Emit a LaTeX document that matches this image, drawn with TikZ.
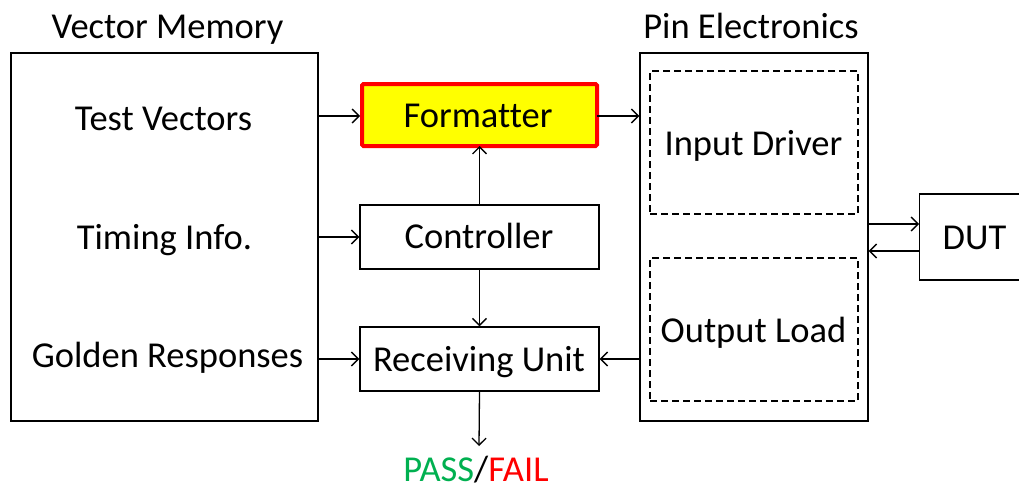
\documentclass[tikz,border=0pt]{standalone}
\usepackage{fontspec}
\setmainfont{Carlito}[Ligatures=NoCommon]
\usetikzlibrary{arrows.meta}
\definecolor{passgreen}{RGB}{0,176,80}
\definecolor{failred}{RGB}{255,0,0}
\definecolor{fmtyellow}{RGB}{255,255,0}
\begin{document}
\begin{tikzpicture}[x=1pt,y=-1pt,
  txt/.style={font=\fontsize{36.5}{42}\selectfont, inner sep=0pt, anchor=base},
  blk/.style={draw, line width=1.4pt, inner sep=0pt},
  dash box/.style={draw, line width=1.2pt, dash pattern=on 7pt off 4pt, inner sep=0pt},
  conn/.style={line width=1.3pt, -{Straight Barb[length=7pt,width=14pt,line width=1.3pt]}}
]
\useasboundingbox (0,0) rectangle (1019,488);

% outer blocks
\node[blk, minimum width=307pt, minimum height=368pt] (vm) at (164.5,237) {};
\node[txt] (vmlabel) at (167.5,38) {Vector Memory};
\node[blk, minimum width=228pt, minimum height=368pt] (pe) at (754,237) {};
\node[txt] (pelabel) at (751,38) {Pin Electronics};

% memory contents
\node[txt] (tv) at (163.5,130) {Test Vectors};
\node[txt] (ti) at (164.5,249) {Timing Info.};
\node[txt] (gr) at (167.5,367) {Golden Responses};
\coordinate (tvout) at (318,116);
\coordinate (tiout) at (318,237);
\coordinate (grout) at (318,359);

% middle column
\node[draw=failred, fill=fmtyellow, line width=4pt, rounded corners=1.5pt,
      minimum width=235pt, minimum height=62pt, inner sep=0pt] (fmt) at (479.5,115) {};
\node[txt] (fmtt) at (478,127) {Formatter};
\node[blk, minimum width=239pt, minimum height=64pt] (ctl) at (479.5,237) {};
\node[txt] (ctlt) at (479,248) {Controller};
\node[blk, minimum width=239pt, minimum height=64pt] (rx) at (479.5,359) {};
\node[txt] (rxt) at (479,371) {Receiving Unit};

% pin electronics contents
\node[dash box, minimum width=208pt, minimum height=143pt] (drv) at (754,142.5) {};
\node[txt] (drvt) at (753.5,155) {Input Driver};
\node[dash box, minimum width=208pt, minimum height=143pt] (load) at (754,329.5) {};
\node[txt] (loadt) at (753.5,342) {Output Load};

% device under test
\node[blk, minimum width=110pt, minimum height=86pt, anchor=west] (dut) at (919,237) {};
\node[txt] (dutt) at (974.5,249) {DUT};

% pass / fail
\coordinate (pftop) at (479,446);
\node[txt] (pf) at (476,481) {\textcolor{passgreen}{PASS}/\textcolor{failred}{FAIL}};

% connectors
\draw[conn] (tvout) -- (fmt.west |- tvout);
\draw[conn] (tiout) -- (ctl.west |- tiout);
\draw[conn] (grout) -- (rx.west |- grout);
\draw[conn] ([xshift=-2pt]fmt.east |- 0,116) -- (pe.west |- 0,116);
\draw[conn] (ctl.north) -- ([yshift=2pt]fmt.south);
\draw[conn] (ctl.south) -- (rx.north);
\draw[conn] (pe.west |- rx) -- (rx.east);
\draw[conn] (pe.east |- 0,224) -- (dut.west |- 0,224);
\draw[conn] (dut.west |- 0,251) -- (pe.east |- 0,251);
\draw[conn] (rx.south) -- (pftop);
\end{tikzpicture}
\end{document}
